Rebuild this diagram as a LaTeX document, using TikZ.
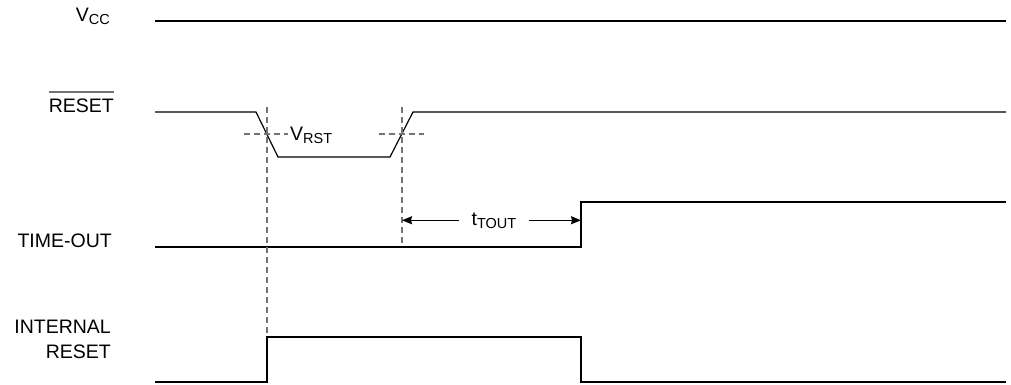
\documentclass[tikz,border=0pt]{standalone}
\usepackage{fontspec}
\setmainfont{Liberation Sans}
\usetikzlibrary{arrows.meta}
\newcommand{\sgsub}[1]{\raisebox{-3pt}{\fontsize{14.5}{15}\selectfont #1}}

\begin{document}
\begin{tikzpicture}[x=1pt,y=-1pt,font=\fontsize{19.5}{24.5}\selectfont,
    wave/.style={line width=1.2pt},
    guide/.style={black!55,line width=1.3pt,dash pattern=on 6pt off 4pt}]
    \useasboundingbox (0,0) rectangle (1011,385);

    % signal names
    \node[draw=none,anchor=base east,inner sep=0](vcc)at(110,22){V\sgsub{CC}};
    \node[draw=none,anchor=base east,inner sep=0](rst)at(114,113){RESET};
    \node[draw=none,anchor=base east,inner sep=0](tmo)at(112,247){TIME-OUT};
    \node[draw=none,anchor=base east,inner sep=0,align=right](irst)at(111,358){INTERNAL\\RESET};
    \draw[black!55,line width=1.4pt] ([yshift=7pt]rst.north west) to ([yshift=7pt]rst.north east);

    % waveforms
    \draw[wave] (155,21) to (1006,21);
    \draw[wave] (155,112) -- (256,112) -- (278,157) -- (390,157) -- (413,112) -- (1006,112);
    \draw[wave] (155,247) -- (581,247) -- (581,202) -- (1006,202);
    \draw[wave] (155,382) -- (267,382) -- (267,337) -- (581,337) -- (581,382) -- (1006,382);

    % threshold and guides
    \coordinate (fall) at (267,337);
    \coordinate (rise) at (402,245);
    \draw[guide] (267,107) to (fall);
    \draw[guide] (402,107) to (rise);
    \draw[guide] (244,134) to (288,134);
    \draw[guide] (379,134) to (424,134);
    \node[draw=none,anchor=base west,inner sep=0](vrst)at(290,140){V\sgsub{RST}};

    % time-out interval
    \coordinate (tend) at (581,220);
    \node[draw=none,anchor=base,inner xsep=12pt,inner ysep=0](tout)at(494,225){t\sgsub{TOUT}};
    \draw[line width=1.2pt,-{Stealth[length=10pt,width=8pt,inset=1pt]}] (tout.west) to (tout.west-|rise);
    \draw[line width=1.2pt,-{Stealth[length=10pt,width=8pt,inset=1pt]}] (tout.east) to (tout.east-|tend);
\end{tikzpicture}
\end{document}
